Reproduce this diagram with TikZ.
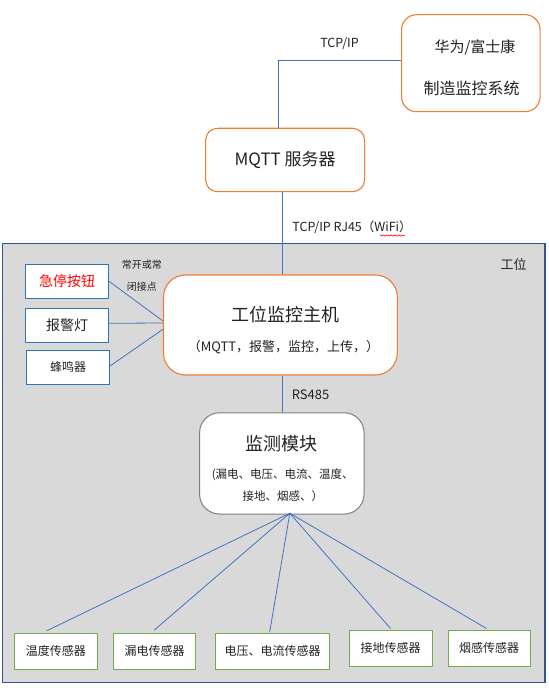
\documentclass[tikz,border=0pt]{standalone}
\usepackage{fontspec}
\setmainfont{Noto Sans CJK SC}
\usetikzlibrary{decorations.pathmorphing}
\definecolor{org}{HTML}{ED7D31}
\definecolor{lnblue}{HTML}{4472C4}
\definecolor{boxblue}{HTML}{2E75B6}
\definecolor{grn}{HTML}{70AD47}
\definecolor{regfill}{HTML}{D9D9D9}
\definecolor{regdraw}{HTML}{2F5597}
\definecolor{gbord}{HTML}{7F7F7F}
\definecolor{txt}{HTML}{222222}
\newcommand\myfs[1]{\fontsize{#1}{#1}\selectfont}
\begin{document}
\begin{tikzpicture}[x=1pt,y=-1pt,
  orgbox/.style={draw=org,line width=1.1pt,fill=white,inner sep=0pt},
  bluebox/.style={draw=boxblue,line width=1pt,fill=white,inner sep=0pt,minimum width=83pt,minimum height=34pt},
  sensbox/.style={draw=grn,line width=1pt,fill=white,inner sep=0pt,minimum height=35.7pt,font=\myfs{12},text=txt},
  lbl/.style={inner sep=0pt,text=txt},
  conn/.style={draw=lnblue,line width=0.8pt}]
\useasboundingbox (0,0) rectangle (548,692);
\fill[white] (0,0) rectangle (548,692);
% region
\node[draw=regdraw,fill=regfill,line width=1.2pt,minimum width=542.2pt,minimum height=439.4pt,inner sep=0pt] (region) at (273.9,463) {};
\node[lbl,font=\myfs{13}] (regionlbl) at (513.7,265) {工位};
% top boxes
\node[orgbox,rounded corners=15pt,minimum width=138.5pt,minimum height=97pt] (huawei) at (470.8,63.2) {};
\node[lbl,font=\myfs{15}] (hw1) at (475,47.7) {华为/富士康};
\node[lbl,font=\myfs{16}] (hw2) at (471.5,88.3) {制造监控系统};
\node[orgbox,rounded corners=12pt,minimum width=159pt,minimum height=63.4pt,font=\myfs{17},text=txt] (mqtt) at (285.1,160) {MQTT 服务器};
\node[lbl,font=\myfs{12.5}] (tcp1) at (339.5,43.3) {TCP/IP};
\node[lbl,font=\myfs{12.5}] (tcp2) at (352,227.7) {TCP/IP RJ45（WiFi）};
\draw[red,line width=0.5pt,decorate,decoration={snake,amplitude=0.7pt,segment length=2.6pt}] (380,235.5) -- (405,235.5);
% host
\node[orgbox,rounded corners=22pt,minimum width=233.8pt,minimum height=100pt] (host) at (280.4,325) {};
\node[lbl,font=\myfs{18}] (host1) at (285.3,315) {工位监控主机};
\node[lbl,font=\myfs{13}] (host2) at (283.5,346.7) {（MQTT，报警，监控，上传，）};
% left devices
\node[bluebox,font=\myfs{14},text=red] (btn) at (67,281.3) {急停按钮};
\node[bluebox,font=\myfs{14},text=txt] (lamp) at (67,325.3) {报警灯};
\node[bluebox,font=\myfs{12},text=txt] (buzz) at (68,367.3) {蜂鸣器};
\node[lbl,font=\myfs{10}] (nc1) at (141.8,265) {常开或常};
\node[lbl,font=\myfs{10}] (nc2) at (141.8,286.7) {闭接点};
% monitor module
\node[draw=gbord,line width=1pt,fill=white,rounded corners=20pt,minimum width=164.5pt,minimum height=101.3pt,inner sep=0pt] (jc) at (281.8,463.4) {};
\node[lbl,font=\myfs{18}] (jc1) at (281.8,443.3) {监测模块};
\node[lbl,font=\myfs{11.5}] (jc2) at (282.8,475) {(漏电、电压、电流、温度、};
\node[lbl,font=\myfs{11.5}] (jc3) at (282.8,496) {接地、烟感、）};
\node[lbl,font=\myfs{13}] (rs) at (310.5,394.3) {RS485};
% sensors
\node[sensbox,minimum width=82.9pt] (s1) at (55.85,651.2) {温度传感器};
\node[sensbox,minimum width=82.3pt] (s2) at (154.55,651.2) {漏电传感器};
\node[sensbox,minimum width=114.1pt] (s3) at (272.65,651.2) {电压、电流传感器};
\node[sensbox,minimum width=83pt,minimum height=36pt] (s4) at (390.5,648) {接地传感器};
\node[sensbox,minimum width=82.3pt,minimum height=36pt] (s5) at (489.15,648) {烟感传感器};
% connectors
\draw[conn] ([yshift=3pt]huawei.west) -| ([xshift=-6.5pt]mqtt.north);
\draw[conn] ([xshift=-2.3pt]mqtt.south) -- ([xshift=-2.3pt]mqtt.south |- host.north);
\draw[conn] ([xshift=2.4pt]host.south) -- ([xshift=2.4pt]host.south |- jc.north);
\draw[conn] (btn.east) -- ([yshift=4pt]host.west);
\draw[conn] ([yshift=2pt]lamp.east) -- ([yshift=2pt]host.west);
\draw[conn] ([yshift=1.3pt]buzz.east) -- ([yshift=-4.3pt]host.west);
\coordinate (fan) at ([xshift=8pt,yshift=1.3pt]jc.south);
\draw[conn] (fan) -- ([xshift=-9.25pt,yshift=2pt]s1.north);
\draw[conn] (fan) -- ([xshift=-0.5pt,yshift=2.6pt]s2.north);
\draw[conn] (fan) -- ([xshift=-3pt,yshift=0.6pt]s3.north);
\draw[conn] (fan) -- ([yshift=1pt]s4.north);
\draw[conn] (fan) -- ([xshift=-2.6pt,yshift=1pt]s5.north);
\end{tikzpicture}
\end{document}
